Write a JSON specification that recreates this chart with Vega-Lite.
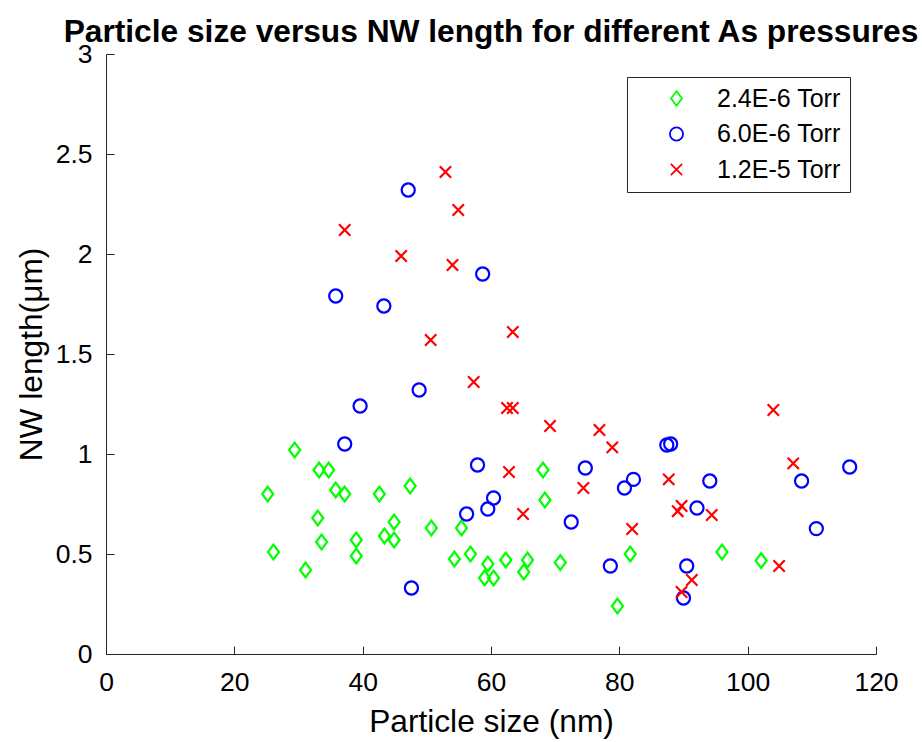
{
  "$schema": "https://vega.github.io/schema/vega-lite/v6.json",
  "autosize": {"type": "none"},
  "padding": {"left": 106, "top": 54, "right": 46, "bottom": 88},
  "width": 770,
  "height": 600,
  "background": "white",
  "title": {
    "text": "Particle size versus NW length for different As pressures",
    "font": "Liberation Sans",
    "fontSize": 31.7,
    "fontWeight": "bold",
    "color": "black",
    "anchor": "middle",
    "baseline": "alphabetic",
    "offset": -32.5
  },
  "config": {
    "view": {"stroke": null},
    "axis": {
      "grid": false,
      "domainColor": "#262626",
      "domainWidth": 1,
      "tickColor": "#262626",
      "tickSize": -8,
      "tickWidth": 1,
      "labelFont": "Liberation Sans",
      "labelFontSize": 26.5,
      "labelColor": "black",
      "titleFont": "Liberation Sans",
      "titleFontSize": 31.7,
      "titleFontWeight": "normal",
      "titleColor": "black"
    }
  },
  "data": {
    "values": [
      {"p": "2.4E-6 Torr", "x": 25.2, "y": 0.80},
      {"p": "2.4E-6 Torr", "x": 26.1, "y": 0.51},
      {"p": "2.4E-6 Torr", "x": 29.4, "y": 1.02},
      {"p": "2.4E-6 Torr", "x": 31.1, "y": 0.42},
      {"p": "2.4E-6 Torr", "x": 33.2, "y": 0.92},
      {"p": "2.4E-6 Torr", "x": 34.7, "y": 0.92},
      {"p": "2.4E-6 Torr", "x": 33.0, "y": 0.68},
      {"p": "2.4E-6 Torr", "x": 33.6, "y": 0.56},
      {"p": "2.4E-6 Torr", "x": 35.8, "y": 0.82},
      {"p": "2.4E-6 Torr", "x": 37.2, "y": 0.80},
      {"p": "2.4E-6 Torr", "x": 39.0, "y": 0.57},
      {"p": "2.4E-6 Torr", "x": 39.0, "y": 0.49},
      {"p": "2.4E-6 Torr", "x": 42.6, "y": 0.80},
      {"p": "2.4E-6 Torr", "x": 43.4, "y": 0.59},
      {"p": "2.4E-6 Torr", "x": 44.9, "y": 0.66},
      {"p": "2.4E-6 Torr", "x": 44.9, "y": 0.57},
      {"p": "2.4E-6 Torr", "x": 47.4, "y": 0.84},
      {"p": "2.4E-6 Torr", "x": 50.7, "y": 0.63},
      {"p": "2.4E-6 Torr", "x": 55.4, "y": 0.63},
      {"p": "2.4E-6 Torr", "x": 54.3, "y": 0.475},
      {"p": "2.4E-6 Torr", "x": 56.8, "y": 0.50},
      {"p": "2.4E-6 Torr", "x": 59.5, "y": 0.45},
      {"p": "2.4E-6 Torr", "x": 59.0, "y": 0.38},
      {"p": "2.4E-6 Torr", "x": 60.4, "y": 0.38},
      {"p": "2.4E-6 Torr", "x": 62.3, "y": 0.47},
      {"p": "2.4E-6 Torr", "x": 65.7, "y": 0.47},
      {"p": "2.4E-6 Torr", "x": 65.1, "y": 0.41},
      {"p": "2.4E-6 Torr", "x": 68.1, "y": 0.92},
      {"p": "2.4E-6 Torr", "x": 68.4, "y": 0.77},
      {"p": "2.4E-6 Torr", "x": 70.8, "y": 0.457},
      {"p": "2.4E-6 Torr", "x": 79.7, "y": 0.24},
      {"p": "2.4E-6 Torr", "x": 81.7, "y": 0.50},
      {"p": "2.4E-6 Torr", "x": 96.0, "y": 0.51},
      {"p": "2.4E-6 Torr", "x": 102.1, "y": 0.467},
      {"p": "6.0E-6 Torr", "x": 35.8, "y": 1.79},
      {"p": "6.0E-6 Torr", "x": 47.1, "y": 2.32},
      {"p": "6.0E-6 Torr", "x": 43.3, "y": 1.74},
      {"p": "6.0E-6 Torr", "x": 58.7, "y": 1.90},
      {"p": "6.0E-6 Torr", "x": 48.8, "y": 1.32},
      {"p": "6.0E-6 Torr", "x": 39.6, "y": 1.24},
      {"p": "6.0E-6 Torr", "x": 37.2, "y": 1.05},
      {"p": "6.0E-6 Torr", "x": 47.6, "y": 0.33},
      {"p": "6.0E-6 Torr", "x": 57.9, "y": 0.945},
      {"p": "6.0E-6 Torr", "x": 56.2, "y": 0.70},
      {"p": "6.0E-6 Torr", "x": 59.5, "y": 0.725},
      {"p": "6.0E-6 Torr", "x": 60.4, "y": 0.78},
      {"p": "6.0E-6 Torr", "x": 72.5, "y": 0.66},
      {"p": "6.0E-6 Torr", "x": 74.7, "y": 0.93},
      {"p": "6.0E-6 Torr", "x": 80.8, "y": 0.83},
      {"p": "6.0E-6 Torr", "x": 78.6, "y": 0.44},
      {"p": "6.0E-6 Torr", "x": 87.4, "y": 1.045},
      {"p": "6.0E-6 Torr", "x": 88.0, "y": 1.05},
      {"p": "6.0E-6 Torr", "x": 82.2, "y": 0.873},
      {"p": "6.0E-6 Torr", "x": 94.1, "y": 0.865},
      {"p": "6.0E-6 Torr", "x": 92.1, "y": 0.73},
      {"p": "6.0E-6 Torr", "x": 90.5, "y": 0.44},
      {"p": "6.0E-6 Torr", "x": 90.0, "y": 0.28},
      {"p": "6.0E-6 Torr", "x": 108.4, "y": 0.865},
      {"p": "6.0E-6 Torr", "x": 115.9, "y": 0.935},
      {"p": "6.0E-6 Torr", "x": 110.7, "y": 0.627},
      {"p": "1.2E-5 Torr", "x": 37.2, "y": 2.12},
      {"p": "1.2E-5 Torr", "x": 52.9, "y": 2.41},
      {"p": "1.2E-5 Torr", "x": 54.9, "y": 2.22},
      {"p": "1.2E-5 Torr", "x": 46.0, "y": 1.99},
      {"p": "1.2E-5 Torr", "x": 54.0, "y": 1.945},
      {"p": "1.2E-5 Torr", "x": 63.4, "y": 1.61},
      {"p": "1.2E-5 Torr", "x": 50.6, "y": 1.57},
      {"p": "1.2E-5 Torr", "x": 57.3, "y": 1.36},
      {"p": "1.2E-5 Torr", "x": 62.5, "y": 1.23},
      {"p": "1.2E-5 Torr", "x": 63.4, "y": 1.23},
      {"p": "1.2E-5 Torr", "x": 69.2, "y": 1.14},
      {"p": "1.2E-5 Torr", "x": 76.9, "y": 1.12},
      {"p": "1.2E-5 Torr", "x": 78.9, "y": 1.033},
      {"p": "1.2E-5 Torr", "x": 62.8, "y": 0.91},
      {"p": "1.2E-5 Torr", "x": 74.4, "y": 0.83},
      {"p": "1.2E-5 Torr", "x": 65.0, "y": 0.70},
      {"p": "1.2E-5 Torr", "x": 104.0, "y": 1.22},
      {"p": "1.2E-5 Torr", "x": 107.1, "y": 0.953},
      {"p": "1.2E-5 Torr", "x": 87.7, "y": 0.873},
      {"p": "1.2E-5 Torr", "x": 89.7, "y": 0.74},
      {"p": "1.2E-5 Torr", "x": 89.1, "y": 0.714},
      {"p": "1.2E-5 Torr", "x": 94.4, "y": 0.695},
      {"p": "1.2E-5 Torr", "x": 82.0, "y": 0.625},
      {"p": "1.2E-5 Torr", "x": 104.9, "y": 0.44},
      {"p": "1.2E-5 Torr", "x": 91.3, "y": 0.37},
      {"p": "1.2E-5 Torr", "x": 89.7, "y": 0.31}
    ]
  },
  "mark": {"type": "point", "filled": false, "strokeWidth": 2.2, "opacity": 1},
  "encoding": {
    "x": {
      "field": "x",
      "type": "quantitative",
      "scale": {"domain": [0, 120], "nice": false, "zero": false},
      "axis": {
        "values": [0, 20, 40, 60, 80, 100, 120],
        "format": "d",
        "labelFlush": false,
        "labelPadding": 23,
        "title": "Particle size (nm)",
        "titleBaseline": "alphabetic",
        "titleY": 77,
        "titleX": 385,
        "titleAnchor": "middle"
      }
    },
    "y": {
      "field": "y",
      "type": "quantitative",
      "scale": {"domain": [0, 3], "nice": false, "zero": false},
      "axis": {
        "values": [0, 0.5, 1, 1.5, 2, 2.5, 3],
        "format": "~g",
        "labelFlush": false,
        "labelPadding": 22,
        "title": "NW length(μm)",
        "titleBaseline": "alphabetic",
        "titleX": -65,
        "titleY": 300,
        "titleAnchor": "middle"
      }
    },
    "color": {
      "field": "p",
      "type": "nominal",
      "scale": {
        "domain": ["2.4E-6 Torr", "6.0E-6 Torr", "1.2E-5 Torr"],
        "range": ["#00ff00", "#0000ff", "#ff0000"]
      },
      "legend": {
        "orient": "none",
        "legendX": 521,
        "legendY": 23,
        "title": null,
        "strokeColor": "#262626",
        "fillColor": "white",
        "padding": 9,
        "labelFont": "Liberation Sans",
        "labelFontSize": 25,
        "labelColor": "black",
        "symbolOffset": 28,
        "labelOffset": 28,
        "rowPadding": 9.5,
        "symbolStrokeWidth": 1.8
      }
    },
    "shape": {
      "field": "p",
      "type": "nominal",
      "scale": {
        "domain": ["2.4E-6 Torr", "6.0E-6 Torr", "1.2E-5 Torr"],
        "range": ["M0,-1L0.75,0L0,1L-0.75,0Z", "circle", "M-1,-1L1,1M1,-1L-1,1"]
      }
    },
    "size": {
      "field": "p",
      "type": "nominal",
      "scale": {
        "domain": ["2.4E-6 Torr", "6.0E-6 Torr", "1.2E-5 Torr"],
        "range": [216, 128, 64]
      }
    }
  }
}
